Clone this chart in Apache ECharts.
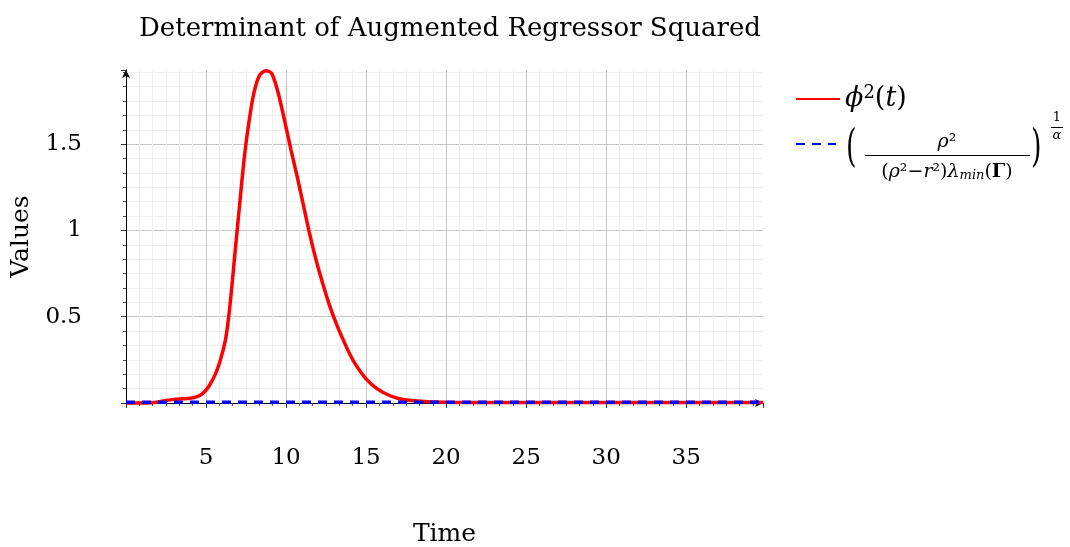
<!DOCTYPE html>
<html>
<head>
<meta charset="utf-8">
<script src="https://cdn.jsdelivr.net/npm/echarts@6/dist/echarts.min.js"></script>
<style>
html,body{margin:0;padding:0;background:#fff;}
#chart{width:1070px;height:547px;}
</style>
</head>
<body>
<div id="chart"></div>
<script>
// ---- data ----
var titleText = 'Determinant of Augmented Regressor Squared';
var xAxisName = 'Time';
var yAxisName = 'Values';
var phiName = 'ϕ²(t)';
var boundName = '(ρ² / ((ρ²−r²) λmin(Γ)))^(1/α)';

var timeValues = [0, 1, 1.5, 2, 2.5, 3, 3.5, 4, 4.4, 4.8, 5.2, 5.6, 5.9, 6.2, 6.35, 6.5, 6.65, 6.8, 7.1, 7.4, 7.7, 8, 8.35, 8.75,
  9.1, 9.5, 9.9, 10.3, 10.7, 11.1, 11.5, 11.9, 12.3, 12.7, 13.2, 13.6, 14, 14.4, 15, 15.7, 16.5, 17.3,
  18.6, 20, 22, 25, 30, 35, 39.8];
var phiValues = [0, 0, 0.001, 0.006, 0.015, 0.021, 0.024, 0.027, 0.035, 0.055, 0.1, 0.17, 0.25, 0.36, 0.45, 0.57, 0.71, 0.86,
  1.15, 1.43, 1.64, 1.8, 1.9, 1.925, 1.91, 1.8, 1.64, 1.47, 1.31, 1.14, 0.97, 0.82, 0.69, 0.57, 0.445, 0.36,
  0.28, 0.215, 0.14, 0.082, 0.042, 0.02, 0.008, 0.004, 0.003, 0.003, 0.003, 0.003, 0.003];
var boundTime = [0, 39.8];
var boundValues = [0.004, 0.004];

var xMin = 0, xMax = 39.8, xInterval = 5;
var yMin = 0, yMax = 1.93, yInterval = 0.5;

function pairs(xs, ys) { return xs.map(function (x, i) { return [x, ys[i]]; }); }

var FONT = 'DejaVu Serif';
var chart = echarts.init(document.getElementById('chart'), null, {renderer: 'canvas'});

var option = {
  backgroundColor: '#fff',
  animation: false,
  title: {
    text: titleText,
    left: 445, top: 11, textAlign: 'center',
    textStyle: {fontFamily: FONT, fontSize: 26, fontWeight: 'normal', color: '#000'}
  },
  grid: {left: 126, right: 307, top: 70, bottom: 144, containLabel: false, outerBoundsMode: 'none'},
  legend: [
    {
      data: [phiName], left: 795, top: 84, orient: 'vertical', padding: 0,
      itemWidth: 44, itemHeight: 14,
      itemStyle: {opacity: 0},
      formatter: function () { return '{it|ϕ}{sup|2}{n|(}{it|t}{n|)}'; },
      textStyle: {fontFamily: FONT, fontSize: 27, color: '#000',
        rich: {it: {fontFamily: FONT, fontStyle: 'italic', fontSize: 27, color: '#000', lineHeight: 30},
               n: {fontFamily: FONT, fontSize: 27, color: '#000', lineHeight: 30},
               sup: {fontFamily: FONT, fontSize: 18, color: '#000', verticalAlign: 'top', lineHeight: 16}}}
    },
    {
      data: [boundName], left: 795, top: 137, orient: 'vertical', padding: 0,
      itemWidth: 40, itemHeight: 14,
      itemStyle: {opacity: 0},
      formatter: function () { return ' '; },
      textStyle: {fontFamily: FONT, fontSize: 14, color: '#000'}
    }
  ],
  xAxis: {
    type: 'value', min: xMin, max: xMax, interval: xInterval,
    name: xAxisName, nameLocation: 'middle', nameGap: 119,
    nameTextStyle: {fontFamily: FONT, fontSize: 25, color: '#000'},
    axisLine: {show: true, onZero: false, symbol: ['none', 'arrow'], symbolSize: [6, 8],
      lineStyle: {color: '#000', width: 1}},
    axisTick: {show: true, length: 5, lineStyle: {color: '#333'}},
    minorTick: {show: true, splitNumber: 6, length: 3, lineStyle: {color: '#555'}},
    axisLabel: {showMinLabel: false, showMaxLabel: false, margin: 44,
      fontFamily: FONT, fontSize: 23, color: '#000'},
    splitLine: {show: true, showMinLine: false, showMaxLine: false, lineStyle: {color: '#c4c4c4', width: 1}},
    minorSplitLine: {show: true, lineStyle: {color: '#efefef', width: 1}}
  },
  yAxis: {
    type: 'value', min: yMin, max: yMax, interval: yInterval,
    name: yAxisName, nameLocation: 'middle', nameGap: 92, nameRotate: 90,
    nameTextStyle: {fontFamily: FONT, fontSize: 25, color: '#000'},
    axisLine: {show: true, onZero: false, symbol: ['none', 'arrow'], symbolSize: [6, 8],
      lineStyle: {color: '#000', width: 1}},
    axisTick: {show: true, length: 5, lineStyle: {color: '#333'}},
    minorTick: {show: true, splitNumber: 6, length: 3, lineStyle: {color: '#555'}},
    axisLabel: {showMinLabel: false, showMaxLabel: false, margin: 44,
      fontFamily: FONT, fontSize: 23, color: '#000'},
    splitLine: {show: true, showMinLine: false, showMaxLine: false, lineStyle: {color: '#c4c4c4', width: 1}},
    minorSplitLine: {show: true, lineStyle: {color: '#efefef', width: 1}}
  },
  series: [
    {
      name: phiName, type: 'line', data: pairs(timeValues, phiValues),
      smooth: 0.3, showSymbol: false, symbol: 'none', clip: false,
      lineStyle: {color: '#ff0000', width: 3.5}, itemStyle: {color: '#ff0000'}, z: 3
    },
    {
      name: boundName, type: 'line', data: pairs(boundTime, boundValues),
      showSymbol: false, symbol: 'none', clip: false,
      lineStyle: {color: '#0000ff', width: 3.5, type: [9, 7]}, itemStyle: {color: '#0000ff'}, z: 4
    }
  ],
  graphic: [
    {type: 'text', left: 846, top: 127, style: {text: '(', fontFamily: FONT, fontSize: 30, fill: '#000'}, scaleY: 1.5, scaleX: 0.9},
    {type: 'text', x: 947, y: 142, style: {text: '{it|ρ}{n|²}', align: 'center', verticalAlign: 'middle',
      rich: {it: {fontFamily: FONT, fontStyle: 'italic', fontSize: 19, fill: '#000'},
             n: {fontFamily: FONT, fontSize: 19, fill: '#000'}}}},
    {type: 'line', shape: {x1: 865, y1: 155.5, x2: 1030, y2: 155.5}, style: {stroke: '#000', lineWidth: 1}},
    {type: 'text', x: 947, y: 170, style: {
      text: '{n|(}{it|ρ}{n|²−}{it|r}{n|²)}{it|λ}{sub|min}{n|(}{b|Γ}{n|)}',
      align: 'center', verticalAlign: 'middle',
      rich: {
        n: {fontFamily: FONT, fontSize: 19, fill: '#000', verticalAlign: 'bottom', lineHeight: 24},
        it: {fontFamily: FONT, fontStyle: 'italic', fontSize: 19, fill: '#000', verticalAlign: 'bottom', lineHeight: 24},
        b: {fontFamily: FONT, fontWeight: 'bold', fontSize: 19, fill: '#000', verticalAlign: 'bottom', lineHeight: 24},
        sub: {fontFamily: FONT, fontStyle: 'italic', fontSize: 13, fill: '#000', verticalAlign: 'bottom', lineHeight: 18}
      }}},
    {type: 'text', left: 1031, top: 127, style: {text: ')', fontFamily: FONT, fontSize: 30, fill: '#000'}, scaleY: 1.5, scaleX: 0.9},
    {type: 'text', x: 1057, y: 118, style: {text: '1', fontFamily: FONT, fontSize: 13, fill: '#000', align: 'center', verticalAlign: 'middle'}},
    {type: 'line', shape: {x1: 1051, y1: 127.5, x2: 1063, y2: 127.5}, style: {stroke: '#000', lineWidth: 1}},
    {type: 'text', x: 1057, y: 136, style: {text: 'α', fontFamily: FONT, fontStyle: 'italic', fontSize: 13, fill: '#000', align: 'center', verticalAlign: 'middle'}}
  ]
};
chart.setOption(option);
</script>
</body>
</html>
